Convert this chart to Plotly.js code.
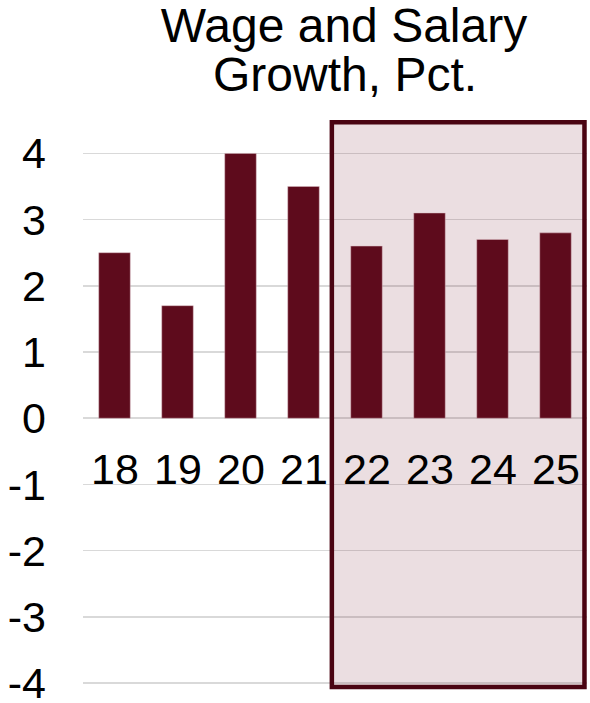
<!DOCTYPE html>
<html>
<head>
<meta charset="utf-8">
<script src="https://cdn.plot.ly/plotly-3.0.1.min.js"></script>
<style>html,body{margin:0;padding:0;background:#fff;}#chart{width:590px;height:703px;}</style>
</head>
<body>
<div id="chart"></div>
<script>
const categories = ["18", "19", "20", "21", "22", "23", "24", "25"];
const wageGrowth = [2.5, 1.7, 4.0, 3.5, 2.6, 3.1, 2.7, 2.8];
const yTicks = [-4, -3, -2, -1, 0, 1, 2, 3, 4];
const titleLine1 = "Wage and Salary";
const titleLine2 = "Growth, Pct.";

const FONT = "Liberation Sans, Arial, sans-serif";
const FS = 43;
const TFS = 48;
const MAROON = "#5E0B1C";

const W = 590, H = 703, ML = 83, MR = 3, MT = 117, MB = 12;
const plotW = W - ML - MR;
const plotH = H - MT - MB;

const trace = {
  type: "bar",
  x: categories.map((c, i) => i),
  y: wageGrowth,
  marker: { color: MAROON, line: { color: "rgba(220,190,196,0.8)", width: 0.6 } },
  width: 0.5,
  hoverinfo: "skip"
};

const labelAnnotations = categories.map((c, i) => ({
  x: i, y: -0.76, xref: "x", yref: "y",
  text: c, showarrow: false,
  xanchor: "center", yanchor: "middle",
  font: { family: FONT, size: FS, color: "#000" }
}));

const titleAnnotation = {
  x: (345 - ML) / plotW, xref: "paper", xanchor: "center",
  y: (H - MB - 74) / plotH, yref: "paper", yanchor: "middle",
  text: titleLine2, showarrow: false,
  font: { family: FONT, size: TFS, color: "#000" }
};

const layout = {
  width: W, height: H,
  margin: { l: ML, r: MR, t: MT, b: MB },
  paper_bgcolor: "#fff", plot_bgcolor: "#fff",
  showlegend: false,
  title: {
    text: titleLine1,
    x: 344 / W, xanchor: "center", xref: "container",
    y: 1 - 25 / H, yanchor: "middle", yref: "container",
    font: { family: FONT, size: TFS, color: "#000" }
  },
  xaxis: {
    range: [-0.5, 7.5],
    showticklabels: false,
    showgrid: false, zeroline: false, showline: false, ticks: ""
  },
  yaxis: {
    range: [-4.12, 4.55],
    tickvals: yTicks,
    ticktext: yTicks.map(String),
    showgrid: true, gridcolor: "#d9d9d9", gridwidth: 1.5,
    zeroline: false, showline: false, ticks: "",
    ticklabelstandoff: 36,
    ticklabeloverflow: "allow",
    tickfont: { family: FONT, size: FS, color: "#000" }
  },
  shapes: [{
    type: "rect", xref: "x", yref: "y",
    x0: 3.45, x1: 7.46, y0: -4.06, y1: 4.47,
    fillcolor: "rgba(110,20,40,0.14)",
    line: { color: "#4A0412", width: 4.5 },
    layer: "between"
  }],
  annotations: labelAnnotations.concat([titleAnnotation])
};

Plotly.newPlot("chart", [trace], layout, { displayModeBar: false, staticPlot: true });
</script>
</body>
</html>
